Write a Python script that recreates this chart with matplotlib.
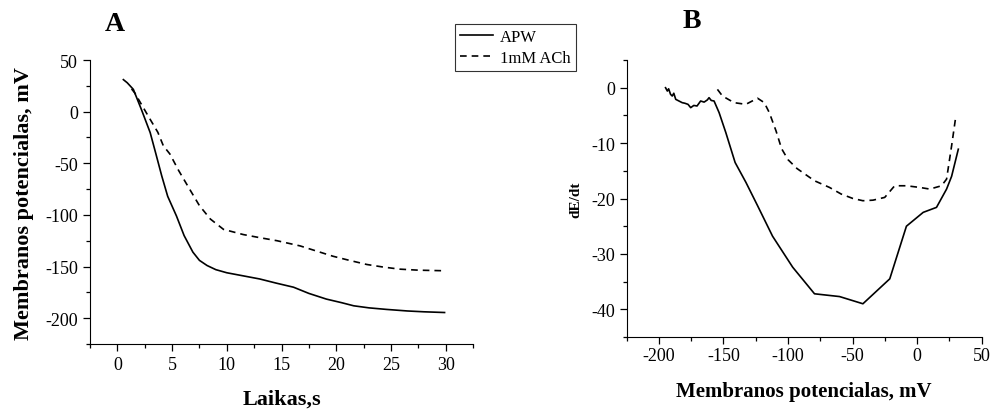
import numpy as np
import matplotlib.pyplot as plt
from matplotlib.ticker import MultipleLocator

plt.rcParams['font.family'] = ['Liberation Serif', 'DejaVu Serif']
plt.rcParams['axes.unicode_minus'] = False

# ---------- panel A: membrane potential vs time ----------
t_apw = [0.55, 0.9, 1.46, 2.2, 3.0, 3.5, 4.05, 4.6, 5.4, 6.1, 6.9, 7.5, 8.2, 9.0, 10.0,
         11.5, 13.0, 14.5, 16.1, 17.5, 19.1, 20.5, 21.6, 23.0, 24.6, 26.5, 28.0, 29.9]
v_apw = [31, 28, 21.6, 2, -20.3, -40, -62, -82, -101, -120, -136, -144, -149, -153, -156,
         -159, -162, -166, -170, -176, -181.5, -185, -188, -190, -191.5, -193, -193.8, -194.5]

t_ach = [1.3, 1.6, 2.2, 3.0, 3.7, 4.2, 4.8, 5.6, 6.6, 7.5, 8.5, 9.7, 11.5, 13.0, 14.6,
         16.7, 18.2, 19.7, 21.2, 22.8, 24.3, 25.8, 27.5, 29.6]
v_ach = [22, 18, 7, -7.5, -20, -33, -41, -57, -75, -91, -104, -114, -119, -122, -125,
         -130, -135, -140, -144, -148, -150.5, -152.5, -153.5, -154]

# ---------- panel B: dE/dt vs membrane potential ----------
e_apw = [-194.9, -193.5, -192.5, -191, -189.7, -188.5, -187, -184.5, -182, -180, -177.5,
         -175.4, -173, -170.5, -167.7, -165, -162.5, -161.2, -159.5, -157.3, -153.4, -148.2,
         -141, -132.6, -123.6, -112, -96.4, -79.5, -60.1, -42, -21.2, -8.3, 4.7, 15,
         22.8, 26.7, 31.9]
d_apw = [0, -0.6, -0.2, -1.2, -1.5, -1.0, -2.1, -2.4, -2.7, -2.8, -3.0,
         -3.6, -3.2, -3.3, -2.4, -2.6, -2.2, -1.8, -2.3, -2.4, -4.5, -8.1,
         -13.5, -17.1, -21.3, -26.8, -32.4, -37.2, -37.7, -39.0, -34.5, -25, -22.5, -21.6,
         -18.3, -16, -11.1]

e_ach = [-154.7, -150.8, -141.8, -132.7, -123.6, -118.4, -114.5, -109.3, -105, -100,
         -93, -79.5, -67.9, -58.8, -49.7, -42, -34.2, -25.1, -17.4, -8.3, 2, 9.8,
         18.9, 22.8, 26.7, 30]
d_ach = [-0.3, -1.5, -2.7, -3.0, -1.9, -2.7, -4.5, -7.8, -11, -13.0,
         -14.6, -16.8, -18.0, -19.2, -20, -20.4, -20.3, -19.8, -17.7, -17.7, -18.0, -18.3,
         -17.7, -16.5, -10.5, -5.1]


def style_axis(ax):
    ax.spines['top'].set_visible(False)
    ax.spines['right'].set_visible(False)
    ax.tick_params(which='major', direction='out', length=5, width=0.9, labelsize=13)
    ax.tick_params(which='minor', direction='out', length=3, width=0.9)


fig = plt.figure(figsize=(9.9, 4.1), dpi=100)

axA = fig.add_axes([0.0909, 0.1585, 0.3869, 0.6927])
axA.plot(t_apw, v_apw, color='black', lw=1.2, label='APW')
axA.plot(t_ach, v_ach, color='black', lw=1.2, ls=(0, (4, 3)), label='1mM ACh')
axA.set_xlim(-2.5, 32.5)
axA.set_ylim(-225, 50)
axA.xaxis.set_major_locator(MultipleLocator(5))
axA.xaxis.set_minor_locator(MultipleLocator(2.5))
axA.yaxis.set_major_locator(MultipleLocator(50))
axA.yaxis.set_minor_locator(MultipleLocator(25))
style_axis(axA)
axA.set_xlabel('Laikas,s', fontsize=16, fontweight='bold', labelpad=11)
axA.set_ylabel('Membranos potencialas, mV', fontsize=16, fontweight='bold', labelpad=8)

axB = fig.add_axes([0.633, 0.1756, 0.3586, 0.6756])
axB.plot(e_apw, d_apw, color='black', lw=1.2)
axB.plot(e_ach, d_ach, color='black', lw=1.2, ls=(0, (4, 3)))
axB.set_xlim(-225, 50)
axB.set_ylim(-45, 5)
axB.xaxis.set_major_locator(MultipleLocator(50))
axB.xaxis.set_minor_locator(MultipleLocator(25))
axB.yaxis.set_major_locator(MultipleLocator(10))
axB.yaxis.set_minor_locator(MultipleLocator(5))
style_axis(axB)
axB.tick_params(axis='x', which='major', pad=2.5)
axB.set_xlabel('Membranos potencialas, mV', fontsize=15, fontweight='bold', labelpad=12)
axB.set_ylabel('dE/dt', fontsize=11, fontweight='bold', labelpad=6)

fig.text(0.116, 0.941, 'A', fontsize=20, fontweight='bold', ha='center', va='center')
fig.text(0.699, 0.948, 'B', fontsize=20, fontweight='bold', ha='center', va='center')

leg = fig.legend(loc='upper left', bbox_to_anchor=(0.4596, 0.939), fontsize=12,
                 frameon=True, fancybox=False, handlelength=2.0, handletextpad=0.4,
                 borderpad=0.3, labelspacing=0.3, borderaxespad=0)
leg.get_frame().set_edgecolor('black')
leg.get_frame().set_linewidth(0.8)

fig.savefig('out.png', dpi=100)
